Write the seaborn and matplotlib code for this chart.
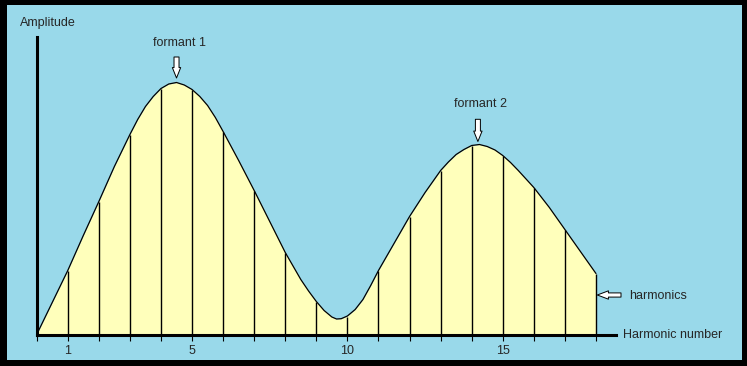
import matplotlib
matplotlib.use("Agg")
import matplotlib.pyplot as plt
from matplotlib.patches import Rectangle
import seaborn as sns

# harmonic lines and their heights (amplitude)
harmonics = list(range(1, 19))
harmonic_amp = [64, 133, 200, 246, 245, 203, 144, 82, 33, 18,
                64, 118, 164, 189, 179, 147, 105, 61]

# spectral envelope, read at a finer step (quarter steps near peaks and dip)
curve_h = [0, 0.5, 1, 1.5, 2, 2.5, 3, 3.25, 3.5, 3.75, 4, 4.25, 4.5, 4.75,
           5, 5.25, 5.5, 5.75, 6, 6.5, 7, 7.5, 8, 8.5, 8.75, 9, 9.25, 9.5,
           9.65, 9.8, 10, 10.25, 10.5, 10.75, 11, 11.5, 12, 12.5, 13, 13.25,
           13.5, 13.75, 14, 14.25, 14.5, 14.75, 15, 15.25, 15.5, 16, 16.5,
           17, 17.5, 18]
curve_amp = [0, 32, 64, 99, 133, 168, 200, 215, 228, 238, 246, 250.5, 252,
             249.5, 245, 238, 229, 217, 203, 174, 144, 113, 82, 55, 43.5, 33,
             24, 17.5, 15.5, 15.8, 18.5, 25, 35, 49, 64, 91, 118, 142, 164,
             172.5, 180, 185, 189, 190, 188, 184.5, 179, 172, 164, 147, 127,
             105, 83, 61]

tick_pos = list(range(0, 19))
tick_text = ['', '1', '', '', '', '5', '', '', '', '', '10',
             '', '', '', '', '15', '', '', '']

formants = ['formant 1', 'formant 2']
formant_h = [4.5, 14.2]

BLUE = '#99D9EA'
YELLOW = '#FFFFBB'

sns.set_style('white')
plt.rcParams['font.family'] = ['Liberation Sans', 'DejaVu Sans']

W, H = 747, 366
fig = plt.figure(figsize=(W / 100, H / 100), dpi=100, facecolor='black')
fig.add_artist(Rectangle((6.7 / W, 6 / H), 735 / W, 355.3 / H,
                         transform=fig.transFigure, facecolor=BLUE,
                         edgecolor='none', zorder=-1))

x0, y0 = 36.7, 334.5          # origin in pixels
px_per_h = 31.07
ax = fig.add_axes([x0 / W, (H - y0) / H, (616 - x0) / W, (y0 - 37) / H])
ax.set_facecolor('none')
ax.set_xlim(0, (616 - x0) / px_per_h)
ax.set_ylim(0, y0 - 37)

ax.fill_between(curve_h, curve_amp, color=YELLOW, lw=0, zorder=1)
sns.lineplot(x=curve_h, y=curve_amp, ax=ax, color='black', lw=0.9, zorder=3)
ax.vlines(harmonics, 0, harmonic_amp, color='black', lw=1.0, zorder=2)

for side in ['top', 'right']:
    ax.spines[side].set_visible(False)
for side in ['left', 'bottom']:
    ax.spines[side].set_linewidth(2.2)
    ax.spines[side].set_color('black')
    ax.spines[side].set_capstyle('projecting')
    ax.spines[side].set_zorder(4)

ax.set_xticks(tick_pos)
ax.set_xticklabels(tick_text)
ax.set_yticks([])
ax.tick_params(axis='x', direction='out', length=4.3, width=0.8,
               color='black', pad=3.0, labelsize=9, bottom=True)

# axis titles
fig.text(20 / W, 1 - 26 / H, 'Amplitude', fontsize=9, ha='left', va='baseline')
fig.text(623 / W, 1 - 338.3 / H, 'Harmonic number', fontsize=9,
         ha='left', va='baseline')

# formant markers
head = dict(arrowstyle='simple,head_length=0.75,head_width=0.6,tail_width=0.36',
            fc='white', ec='black', lw=0.7, mutation_scale=10,
            shrinkA=0, shrinkB=0)
label_y = [288.5, 227.2]
arrow_top = [277.5, 215.2]
arrow_tip = [256.5, 193.0]
for name, h, ly, at, tip in zip(formants, formant_h, label_y, arrow_top, arrow_tip):
    ax.text(h + 0.08, ly, name, fontsize=9, ha='center', va='baseline')
    ax.annotate('', xy=(h, tip), xytext=(h, at), arrowprops=head,
                annotation_clip=False)

small = dict(arrowstyle='simple,head_length=0.8,head_width=0.6,tail_width=0.3',
             fc='white', ec='black', lw=0.7, mutation_scale=10,
             shrinkA=0, shrinkB=0)
ax.annotate('', xy=((597.3 - x0) / px_per_h, 39.5),
            xytext=((621 - x0) / px_per_h, 39.5), arrowprops=small,
            annotation_clip=False)
ax.text((629 - x0) / px_per_h, 35.5, 'harmonics', fontsize=9,
        ha='left', va='baseline', clip_on=False)

fig.savefig('out.png', dpi=100)
